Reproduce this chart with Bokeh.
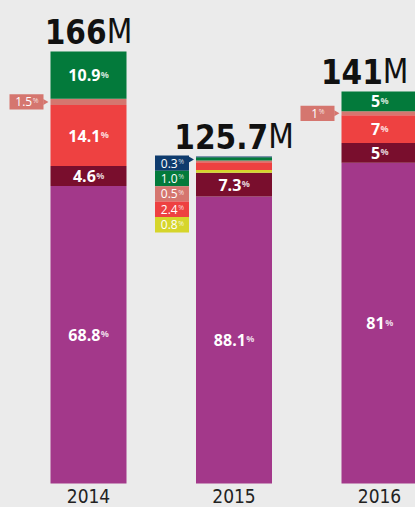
import math
from bokeh.plotting import figure
from bokeh.models import ColumnDataSource, GlobalInlineStyleSheet
from bokeh.core.properties import value
from bokeh.embed import file_html
from bokeh.resources import INLINE

# ---------------- data ----------------
years = ["2014", "2015", "2016"]
year_pos = [2014, 2015, 2016]
total_labels = ["166", "125.7", "141"]        # millions, as labelled
drawn_totals = [166, 125.7, 150.6]            # bar heights as drawn in the reference (millions)

# shares in % (bottom -> top of each stack)
purple = ["68.8", "88.1", "81"]
maroon = ["4.6", "7.3", "5"]
yellow = ["0", "0.8", "0"]
red = ["14.1", "2.4", "7"]
salmon = ["1.5", "0.5", "1"]
green = ["10.9", "1.0", "5"]
navy = ["0", "0.3", "0"]

series = [
    (purple, "#a3388a"),
    (maroon, "#790e2d"),
    (yellow, "#d6d52b"),
    (red, "#ee4141"),
    (salmon, "#d5766f"),
    (green, "#037a3b"),
    (navy, "#0e3b6d"),
]

# ---------------- layout helpers ----------------
W, H = 415, 507
BG = "#ebebeb"
XS = 145.5            # px per year
YS = 432 / 166        # px per million
X0_PX = 88            # px of first bar centre
BASE_PX = 483         # px of bar baseline
BAR_W = 76

def dx(px):
    return px / XS

def dy(px):
    return px / YS

x_start = year_pos[0] - dx(X0_PX)
x_end = x_start + dx(W)
y_start = -dy(H - BASE_PX)
y_end = dy(BASE_PX)

p = figure(width=W, height=H, x_range=(x_start, x_end), y_range=(y_start, y_end),
           toolbar_location=None, output_backend="svg", min_border=0,
           x_axis_location=None, y_axis_location=None,
           background_fill_color=BG, border_fill_color=BG, outline_line_color=None)
p.grid.visible = False
p.stylesheets = [GlobalInlineStyleSheet(css="html, body { margin: 0 !important; padding: 0; background: #ebebeb; overflow: hidden; }")]

NARROW = "DejaVu Sans Condensed"
SANS = "Open Sans"

def num_w(s, fs, digit=0.572, dot=0.266):
    nd = sum(c.isdigit() for c in s)
    npd = s.count(".")
    return fs * (digit * nd + dot * npd)

seg = dict(x=[], bottom=[], top=[], color=[])
in_num = dict(x=[], y=[], text=[])
in_pct = dict(x=[], y=[], text=[])
box = dict(x=[], y=[], color=[])
bx_num = dict(x=[], y=[], text=[])
bx_pct = dict(x=[], y=[], text=[])
ptr = dict(x=[], y=[], color=[])

IN_FS, IN_PFS = 16, 9
BX_FS, BX_PFS = 12, 7
BOX_W, BOX_H = 34, 15.4

for i, yr in enumerate(year_pos):
    vals = [float(s[0][i]) for s in series]
    ssum = sum(vals)
    b = 0.0
    small = []
    for (arr, col), v in zip(series, vals):
        if v <= 0:
            continue
        h = v / ssum * drawn_totals[i]
        seg["x"].append(yr); seg["bottom"].append(b); seg["top"].append(b + h); seg["color"].append(col)
        mid = b + h / 2
        if v >= 3:
            t = arr[i]
            xr = yr + dx((num_w(t, IN_FS) - 8) / 2)
            in_num["x"].append(xr); in_num["y"].append(mid); in_num["text"].append(t)
            in_pct["x"].append(xr + dx(0.5)); in_pct["y"].append(mid + dy(1)); in_pct["text"].append("%")
        else:
            small.append((arr[i], col, mid))
        b += h
    small = small[::-1]  # top -> bottom
    box_right = yr - dx(BAR_W / 2 + 7)
    bcx = box_right - dx(BOX_W / 2)
    top = drawn_totals[i] + dy(1)
    for k, (t, col, mid) in enumerate(small):
        cy = mid if len(small) == 1 else top - dy((k + 0.5) * BOX_H)
        box["x"].append(bcx); box["y"].append(cy); box["color"].append(col)
        xr = bcx + dx((num_w(t, BX_FS, dot=0.26) - 5.5) / 2)
        bx_num["x"].append(xr); bx_num["y"].append(cy); bx_num["text"].append(t)
        bx_pct["x"].append(xr + dx(0.5)); bx_pct["y"].append(cy + dy(1.5)); bx_pct["text"].append("%")
        if k == 0:
            py = min(max(mid, cy - dy(BOX_H / 2 - 4)), cy + dy(BOX_H / 2 - 4))
            ptr["x"].append(box_right + dx(1.5)); ptr["y"].append(py); ptr["color"].append(col)

p.vbar(x="x", bottom="bottom", top="top", width=dx(BAR_W), color="color", line_color=None,
       source=ColumnDataSource(seg))

p.text(x="x", y="y", text="text", source=ColumnDataSource(in_num), text_align="right",
       text_baseline="middle", text_color="white", text_font=value(SANS),
       text_font_size=f"{IN_FS}px", text_font_style="bold")
p.text(x="x", y="y", text="text", source=ColumnDataSource(in_pct), text_align="left",
       text_baseline="middle", text_color="white", text_alpha=0.8, text_font=value(SANS),
       text_font_size=f"{IN_PFS}px", text_font_style="bold")

p.rect(x="x", y="y", width=BOX_W, height=BOX_H, width_units="screen", height_units="screen",
       color="color", line_color=None, source=ColumnDataSource(box))
p.scatter(x="x", y="y", marker="triangle", size=6, angle=-math.pi / 2, color="color",
          line_color=None, source=ColumnDataSource(ptr))
p.text(x="x", y="y", text="text", source=ColumnDataSource(bx_num), text_align="right",
       text_baseline="middle", text_color="white", text_font=value(SANS),
       text_font_size=f"{BX_FS}px")
p.text(x="x", y="y", text="text", source=ColumnDataSource(bx_pct), text_align="left",
       text_baseline="middle", text_color="white", text_alpha=0.8, text_font=value(SANS),
       text_font_size=f"{BX_PFS}px")

# totals above bars
TOT_FS = 33
tot_num = dict(x=[], y=[], text=[])
tot_m = dict(x=[], y=[], text=[])
for i, yr in enumerate(year_pos):
    t = total_labels[i]
    nw = num_w(t, TOT_FS, digit=0.626, dot=0.342)
    mw = TOT_FS * 0.777
    cx_px = X0_PX + (yr - year_pos[0]) * XS
    cx_px = min(cx_px, W - 7 - (nw + mw) / 2)
    split = x_start + dx(cx_px + (nw - mw) / 2)
    yc = drawn_totals[i] + dy(8 + 0.729 * TOT_FS / 2)
    tot_num["x"].append(split); tot_num["y"].append(yc); tot_num["text"].append(t)
    tot_m["x"].append(split); tot_m["y"].append(yc); tot_m["text"].append("M")
p.text(x="x", y="y", text="text", source=ColumnDataSource(tot_num), text_align="right",
       text_baseline="middle", text_color="#111111", text_font=value(NARROW),
       text_font_size=f"{TOT_FS}px", text_font_style="bold")
p.text(x="x", y="y", text="text", source=ColumnDataSource(tot_m), text_align="left",
       text_baseline="middle", text_color="#111111", text_font=value(NARROW),
       text_font_size=f"{TOT_FS}px")

# year labels
p.text(x=year_pos, y=[-dy(495 - BASE_PX)] * 3, text=years, text_align="center",
       text_baseline="middle", text_color="#222222", text_font=value(NARROW),
       text_font_size="19px")

open("out.html", "w").write(file_html(p, INLINE))
